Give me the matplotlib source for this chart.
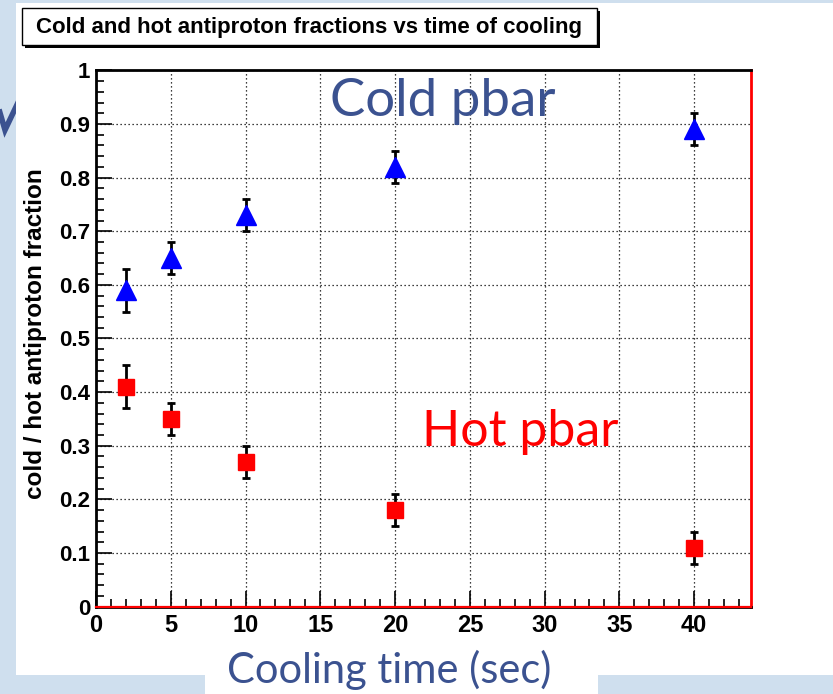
import matplotlib
matplotlib.use('Agg')
import matplotlib.pyplot as plt
from matplotlib.patches import Rectangle
from matplotlib.lines import Line2D
from matplotlib.ticker import MultipleLocator, FuncFormatter

# ---- data ----
cooling_time = [2, 5, 10, 20, 40]
cold_frac = [0.59, 0.65, 0.73, 0.82, 0.89]
cold_err = [0.04, 0.03, 0.03, 0.03, 0.03]
hot_frac = [0.41, 0.35, 0.27, 0.18, 0.11]
hot_err = [0.04, 0.03, 0.03, 0.03, 0.03]

title_text = "Cold and hot antiproton fractions vs time of cooling"
ylabel_text = "cold / hot antiproton fraction"
xlabel_text = "Cooling time (sec)"
cold_label = "Cold pbar"
hot_label = "Hot pbar"

W, H = 833, 694
SLIDE_BLUE = '#3b5290'
fig = plt.figure(figsize=(W / 100, H / 100), dpi=100, facecolor='#cfdfee')


def fx(x):
    return x / W


def fy(y):
    return 1 - y / H


def rect(x0, y0, x1, y1, **kw):
    r = Rectangle((fx(x0), fy(y1)), (x1 - x0) / W, (y1 - y0) / H,
                  transform=fig.transFigure, **kw)
    fig.add_artist(r)
    return r


# slide decoration: check mark partly hidden under the picture
chk = Line2D([fx(-2), fx(5), fx(24)], [fy(106), fy(130), fy(90)],
             transform=fig.transFigure, color=SLIDE_BLUE, lw=4, zorder=-3,
             solid_capstyle='butt', solid_joinstyle='miter')
fig.add_artist(chk)
# white picture area
rect(16, 3, 833, 675, facecolor='white', edgecolor='none', zorder=-2)
rect(205, 675, 598, 694, facecolor='white', edgecolor='none', zorder=-2)

# title box with shadow
rect(25, 11, 600, 48, facecolor='black', edgecolor='none', zorder=1)
rect(22, 8, 597, 45, facecolor='white', edgecolor='black', lw=1, zorder=2)
fig.text(fx(309.5), fy(27), title_text, ha='center', va='center',
         family='Liberation Sans', weight='bold', fontsize=16, zorder=3)

# ---- axes ----
ax = fig.add_axes([fx(96), fy(606.6), (751 - 96) / W, (606.6 - 70.4) / H])
ax.set_xlim(0, 43.8)
ax.set_ylim(0, 1)
ax.set_facecolor('white')

ax.xaxis.set_major_locator(MultipleLocator(5))
ax.xaxis.set_minor_locator(MultipleLocator(1))
ax.yaxis.set_major_locator(MultipleLocator(0.1))
ax.yaxis.set_minor_locator(MultipleLocator(0.02))
ax.yaxis.set_major_formatter(FuncFormatter(lambda v, p: f"{v:g}"))
ax.xaxis.set_major_formatter(FuncFormatter(lambda v, p: f"{v:g}"))

ax.tick_params(which='major', direction='in', length=11.5, width=1.2, pad=4)
ax.tick_params(which='minor', direction='in', length=5.8, width=1.2)
ax.tick_params(axis='y', which='major', labelsize=16)
ax.tick_params(axis='x', which='major', labelsize=17, pad=5)
for lab in ax.get_xticklabels() + ax.get_yticklabels():
    lab.set_family('Liberation Sans')
    lab.set_weight('bold')

ax.grid(True, which='major', color='black', linestyle=(0, (1, 2.2)), lw=0.9)
ax.set_axisbelow(True)

for s in ['left', 'top', 'bottom']:
    ax.spines[s].set_color('black')
    ax.spines[s].set_linewidth(2)
ax.spines['right'].set_color('red')
ax.spines['right'].set_linewidth(2)
ax.axhline(0, color='red', lw=1.6, zorder=5, clip_on=False)

# data
ax.errorbar(cooling_time, cold_frac, yerr=cold_err, fmt='none', ecolor='black',
            elinewidth=2, capsize=3, capthick=2, zorder=3)
ax.errorbar(cooling_time, hot_frac, yerr=hot_err, fmt='none', ecolor='black',
            elinewidth=2, capsize=3, capthick=2, zorder=3)
ax.plot(cooling_time, cold_frac, linestyle='none', marker='^', ms=15,
        color='#0000ff', mec='#0000ff', zorder=4)
ax.plot(cooling_time, hot_frac, linestyle='none', marker='s', ms=11,
        color='#ff0000', mec='#ff0000', zorder=4)

# axis title
fig.text(fx(36), fy(334), ylabel_text, rotation=90, ha='center', va='center',
         family='Liberation Sans', weight='bold', fontsize=17.5)

# slide annotations
fig.text(fx(330), fy(116), cold_label, ha='left', va='baseline',
         family='Lato', fontsize=38, color=SLIDE_BLUE)
fig.text(fx(422), fy(446), hot_label, ha='left', va='baseline',
         family='Lato', fontsize=36, color='#ff0000')
fig.text(fx(389.5), fy(683), xlabel_text, ha='center', va='baseline',
         family='Lato', fontsize=30, color=SLIDE_BLUE)

fig.savefig('out.png', dpi=100, facecolor=fig.get_facecolor())
